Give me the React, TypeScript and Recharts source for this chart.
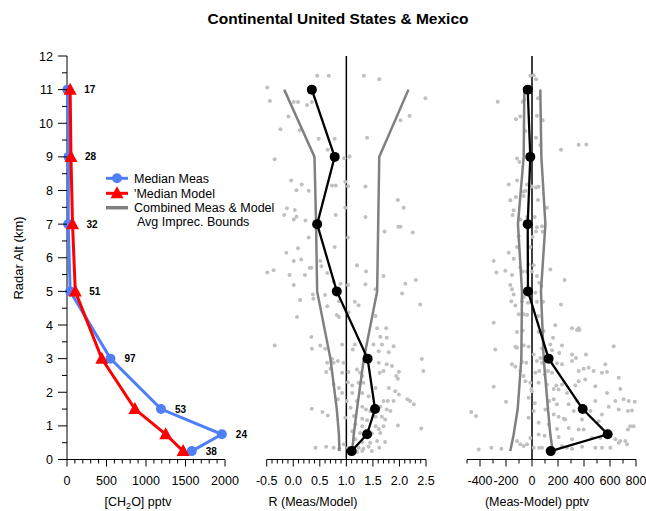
import React from "react";
import { ScatterChart, Scatter, XAxis, YAxis, ReferenceLine } from "recharts";

const FONT = '"Liberation Sans", Arial, Helvetica, sans-serif';
const W = 646;
const H = 511;
const TOP = 56;
const AXIS_H = 51.5; // plot bottom at 459.5

// altitude bins (km) and number of points per bin
const altitudes = [11, 9, 7, 5, 3, 1.5, 0.75, 0.25];
const counts = [17, 28, 32, 51, 97, 53, 24, 38];

// panel 1: [CH2O] pptv
const medianMeas = [5, 20, 15, 40, 550, 1190, 1960, 1580];
const medianModel = [40, 50, 70, 105, 440, 860, 1250, 1470];

// panel 2: R (Meas/Model)
const ratioMedian = [0.35, 0.78, 0.45, 0.82, 1.4, 1.54, 1.39, 1.1];
const ratioLow = [-0.17, 0.4, 0.43, 0.45, 0.7, 0.82, 0.86, 0.87];
const ratioHigh = [2.17, 1.62, 1.6, 1.58, 1.33, 1.2, 1.14, 1.11];

// panel 3: (Meas-Model) pptv
const diffMedian = [-33, -13, -33, -31, 128, 390, 582, 144];
const diffLow = [-59, -64, -108, -77, -82, -110, -141, -167];
const diffHigh = [64, 72, 103, 69, 90, 123, 141, 159];

// individual points [value, altitude]
const ratioPoints: [number, number][] = [
  [-0.49, 11.06], [0.45, 11.41], [0.67, 11.41], [1.33, 11.41], [1.62, 11.31], [-0.44, 10.66], [0.01, 10.63],
  [0.09, 10.63], [0.26, 10.54], [0.35, 10.63], [2.49, 10.74], [-0.09, 10.2], [2.02, 10.09], [2.19, 10.22],
  [-0.24, 9.82], [0.12, 9.79], [0.48, 9.54], [0.78, 9.54], [1.39, 9.57], [-0.35, 8.93], [0.65, 9.21],
  [0.96, 8.96], [1.06, 9.01], [-0.04, 8.3], [0.16, 8.18], [0.06, 8.01], [0.29, 7.99], [0.73, 8.15],
  [0.8, 8.15], [0.98, 8.26], [1.03, 8.13], [1.36, 8.12],
  [1.97, 7.72], [-0.12, 7.47], [0.03, 7.42], [-0.17, 7.27], [0.06, 7.22], [0.01, 7.14], [0.23, 7.11],
  [0.8, 7.27], [0.98, 7.49], [1.36, 7.21], [2.08, 7.49], [1.98, 6.92], [2.02, 6.92], [2.25, 6.75],
  [1.72, 6.78], [1.03, 6.6], [0.29, 6.6], [0.78, 6.32], [0.09, 6.28], [-0.13, 6.15], [0.01, 5.9],
  [0.15, 5.95], [0.31, 5.7], [0.34, 5.7], [0.51, 5.9], [0.53, 5.75], [-0.49, 5.56], [-0.37, 5.63],
  [-0.07, 5.49], [0.22, 5.49], [0.64, 5.55], [1.2, 5.78], [1.37, 5.59], [1.7, 5.46], [0.76, 5.29],
  [0.89, 5.23], [1.03, 5.19], [1.36, 5.21], [1.55, 5.06], [2.11, 5.23], [2.31, 5.34], [0.01, 5.19],
  [2.05, 4.94], [0.37, 4.91], [0.38, 4.78], [0.6, 4.89], [0.13, 4.74], [0.86, 4.71], [1.16, 4.69],
  [1.23, 4.59], [2.39, 4.61], [0.64, 4.56], [0.07, 4.24], [0.82, 4.3], [0.86, 4.24], [1.04, 4.38],
  [1.55, 4.27], [1.58, 3.9], [1.75, 3.9],
  [0.34, 3.64], [-0.35, 3.39], [0.35, 3.29], [0.51, 3.39], [0.6, 3.29], [0.92, 3.42], [1.12, 3.27],
  [1.16, 3.42], [1.64, 3.65], [1.76, 3.62], [1.51, 3.42], [1.67, 3.42], [1.89, 3.37], [1.61, 3.22],
  [1.8, 3.19], [2.42, 2.99], [2.45, 2.63], [0.64, 2.88], [0.76, 2.88], [0.95, 2.88], [0.73, 2.99],
  [0.84, 2.93], [0.7, 2.7], [0.62, 2.6], [0.92, 2.58], [1.04, 2.6], [1.2, 2.68], [1.61, 2.88],
  [1.76, 2.83], [1.86, 2.78], [1.63, 2.58], [1.7, 2.63], [1.99, 2.61], [1.94, 2.48], [1.97, 2.4],
  [0.76, 2.23], [0.86, 2.13], [1.03, 2.3], [1.11, 2.2], [1.23, 2.28], [1.32, 2.28], [1.3, 2.48],
  [1.26, 2.58], [1.55, 2.13], [1.8, 2.13], [1.92, 2.03], [1.99, 1.93], [0.92, 1.98], [1.11, 1.98],
  [1.3, 1.98], [1.42, 1.88], [0.84, 1.79], [1.01, 1.74], [1.2, 1.74], [1.7, 1.74], [1.78, 1.74],
  [1.89, 1.74], [2.15, 1.79], [2.2, 1.74], [2.27, 1.64], [0.35, 1.51], [0.55, 1.41], [0.65, 1.31],
  [1.08, 1.54], [1.3, 1.57], [1.37, 1.49], [1.45, 1.44], [1.51, 1.59], [1.64, 1.57], [1.76, 1.49],
  [1.83, 1.44], [0.98, 1.24], [1.14, 1.29], [1.3, 1.21], [1.39, 1.17], [1.55, 1.27], [1.67, 1.27],
  [1.73, 1.19], [1.17, 1.04], [1.3, 0.99], [1.55, 0.99], [1.61, 0.91], [1.7, 0.99], [1.97, 1.01],
  [2.41, 0.92], [1.11, 0.84], [1.26, 0.79], [1.48, 0.77], [1.64, 0.79], [1.17, 0.6], [1.3, 0.52],
  [1.45, 0.5], [1.58, 0.55], [1.73, 0.52], [0.42, 0.35], [0.62, 0.38], [0.76, 0.35], [0.86, 0.32],
  [0.95, 0.45], [1.03, 0.35], [1.23, 0.35], [1.32, 0.32], [1.42, 0.38], [1.62, 0.35], [1.08, 0.2],
  [1.2, 0.22], [1.3, 0.25], [1.48, 0.25],
];

const diffPoints: [number, number][] = [
  [-13, 11.41], [13, 11.43], [31, 11.31], [-264, 10.64], [-72, 10.64], [-59, 10.71], [46, 10.74],
  [-123, 10.12], [-90, 10.2], [38, 10.22], [82, 10.09], [-51, 9.77], [31, 9.57], [64, 9.35], [223, 9.21],
  [359, 9.36], [418, 9.37], [-115, 8.95], [-97, 8.85], [-115, 8.3], [-179, 8.18], [-38, 8.18], [0, 8.12],
  [31, 8.09], [51, 8.11], [-51, 7.99], [-64, 7.96],
  [-167, 7.71], [-123, 7.81], [-64, 7.84], [46, 7.72], [-141, 7.41], [-149, 7.27], [115, 7.49],
  [-90, 7.14], [-38, 7.21], [21, 7.21], [38, 6.91], [77, 6.94], [82, 6.77], [31, 6.78], [5, 6.62],
  [-103, 6.64], [-115, 6.32], [-13, 6.32], [-179, 6.15], [-141, 5.97], [-295, 5.9], [-274, 5.56],
  [-205, 5.61], [-154, 5.49], [-90, 5.72], [-26, 5.8], [13, 5.78], [-72, 5.59], [-38, 5.59], [0, 5.59],
  [38, 5.46], [141, 5.65], [251, 5.34], [-167, 5.19], [-154, 5.06], [-141, 4.91], [56, 5.26], [72, 5.16],
  [26, 4.96], [-64, 4.83], [-77, 4.71], [-31, 4.66], [38, 4.69], [85, 4.69], [-159, 4.71], [-128, 4.58],
  [223, 4.61], [-103, 4.32], [-64, 4.32], [-38, 4.3], [51, 4.27], [-295, 4.07], [179, 3.99], [308, 3.9],
  [359, 3.9],
  [-115, 3.79], [-72, 3.84], [51, 3.79], [90, 3.82], [162, 3.62], [346, 3.85], [364, 3.85], [-282, 3.27],
  [-128, 3.35], [-115, 3.32], [-64, 3.39], [-26, 3.35], [77, 3.3], [141, 3.42], [154, 3.25], [231, 3.39],
  [13, 3.12], [64, 3.02], [210, 3.17], [308, 3.12], [338, 3.02], [415, 3.12], [628, 3.37], [-154, 2.83],
  [-128, 2.76], [-77, 2.9], [-44, 2.88], [38, 2.93], [77, 2.88], [192, 2.86], [231, 2.83], [308, 2.93],
  [359, 2.63], [397, 2.7], [436, 2.73], [474, 2.63], [538, 2.58], [564, 2.83], [577, 2.6], [-90, 2.63],
  [-64, 2.48], [26, 2.58], [56, 2.63], [97, 2.53], [123, 2.63], [154, 2.58], [-51, 2.33], [-13, 2.28],
  [51, 2.28], [115, 2.23], [187, 2.2], [231, 2.23], [-295, 2.16], [-5, 2.1], [0, 2.03], [167, 2.1],
  [205, 2.08], [269, 1.98], [333, 2.2], [359, 2.33], [410, 2.38], [487, 2.18], [667, 2.43], [577, 1.98],
  [679, 2.1], [-200, 1.72], [-26, 1.84], [21, 1.67], [133, 1.74], [167, 1.79], [192, 1.64], [282, 1.64],
  [346, 1.74], [487, 1.74], [641, 1.74], [705, 1.79], [744, 1.74], [790, 1.72], [-467, 1.41], [-431, 1.29],
  [13, 1.44], [103, 1.49], [167, 1.34], [205, 1.27], [244, 1.21], [321, 1.44], [449, 1.44], [538, 1.34],
  [590, 1.57], [667, 1.49], [738, 1.44], [769, 1.46], [-26, 1.24], [51, 1.09], [128, 1.04], [256, 1.19],
  [385, 1.19], [513, 1.14], [192, 0.91], [282, 0.94], [359, 0.89], [397, 0.89], [738, 0.89], [756, 0.99],
  [782, 0.99], [51, 0.74], [97, 0.71], [205, 0.67], [308, 0.6], [462, 0.64], [526, 0.64], [641, 0.6],
  [679, 0.55], [718, 0.55], [-13, 0.64], [-115, 0.55], [-90, 0.45], [-64, 0.4], [-38, 0.45], [-410, 0.3],
  [-313, 0.35], [-236, 0.32], [13, 0.35], [56, 0.35], [77, 0.35], [231, 0.4], [269, 0.35], [308, 0.32],
  [385, 0.38], [487, 0.35], [538, 0.35], [603, 0.35], [667, 0.5], [731, 0.45],
];

const ch2oTicks = Array.from({ length: 21 }, (_, i) => i * 100);
const ratioTicks = Array.from({ length: 31 }, (_, i) => Math.round((-0.5 + i * 0.1) * 10) / 10);
const diffTicks = Array.from({ length: 14 }, (_, i) => -500 + i * 100);
const altTicks = Array.from({ length: 25 }, (_, i) => i * 0.5);

const toPts = (xs: number[]) => xs.map((x, i) => ({ x, y: altitudes[i] }));
const toCloud = (pts: [number, number][]) => pts.map(([x, y]) => ({ x, y }));

const isMultiple = (v: number, m: number) => Math.abs(v / m - Math.round(v / m)) < 1e-6;

const makeXTick = (labelEvery: number, fmt: (v: number) => string) => (props: any) => {
  const { x, y, payload } = props;
  const major = isMultiple(payload.value, labelEvery);
  return (
    <g>
      <line x1={x} x2={x} y1={y} y2={y + (major ? 7 : 4)} stroke="#000" strokeWidth={1} />
      {major && (
        <text x={x} y={y + 25.5} textAnchor="middle" fontSize={12.5} fontFamily={FONT} fill="#000">
          {fmt(payload.value)}
        </text>
      )}
    </g>
  );
};

const altTick = (props: any) => {
  const { x, y, payload } = props;
  const major = isMultiple(payload.value, 1);
  return (
    <g>
      <line x1={x - (major ? 9 : 5)} x2={x} y1={y} y2={y} stroke="#000" strokeWidth={1} />
      {major && (
        <text x={x - 14} y={y + 4.5} textAnchor="end" fontSize={12.5} fontFamily={FONT} fill="#000">
          {payload.value}
        </text>
      )}
    </g>
  );
};

const noShape = () => <g />;
const grayDot = (p: any) => <circle cx={p.cx} cy={p.cy} r={2} fill="#c0c0c0" />;
const blackDot = (p: any) => <circle cx={p.cx} cy={p.cy} r={5} fill="#000" />;
const blueDot = (p: any) => <circle cx={p.cx} cy={p.cy} r={5} fill="#4f7ff6" />;
const redTri = (p: any) => (
  <polygon points={`${p.cx},${p.cy - 7} ${p.cx - 6.5},${p.cy + 5} ${p.cx + 6.5},${p.cy + 5}`} fill="#ff0000" />
);
const countLabel = (p: any) => (
  <text x={p.cx + 14} y={p.cy + 3.6} fontSize={10} fontWeight="bold" fontFamily={FONT} fill="#000">
    {p.payload.n}
  </text>
);

const frame = { position: "absolute" as const, left: 0, top: 0 };

function Ch2oPanel() {
  const labels = altitudes.map((a, i) => ({ x: Math.max(medianMeas[i], medianModel[i]), y: a, n: counts[i] }));
  return (
    <div style={frame}>
      <ScatterChart width={W} height={H} margin={{ top: TOP, right: 421, bottom: 0, left: 0 }}>
        <XAxis type="number" dataKey="x" domain={[0, 2000]} ticks={ch2oTicks} interval={0} height={AXIS_H}
          tickLine={false} tickSize={0} tickMargin={0} stroke="#000" tick={makeXTick(500, (v) => String(v))} />
        <YAxis type="number" dataKey="y" domain={[0, 12]} ticks={altTicks} interval={0} width={67}
          tickLine={false} tickSize={0} tickMargin={0} stroke="#000" tick={altTick} />
        <Scatter data={toPts(medianMeas)} line={{ stroke: "#4f7ff6", strokeWidth: 3 }} lineType="joint"
          shape={blueDot} isAnimationActive={false} />
        <Scatter data={toPts(medianModel)} line={{ stroke: "#ff0000", strokeWidth: 3 }} lineType="joint"
          shape={redTri} isAnimationActive={false} />
        <Scatter data={labels} shape={countLabel} isAnimationActive={false} />
      </ScatterChart>
    </div>
  );
}

function RatioPanel() {
  return (
    <div style={frame}>
      <ScatterChart width={W} height={H} margin={{ top: TOP, right: 220, bottom: 0, left: 266.7 }}>
        <XAxis type="number" dataKey="x" domain={[-0.5, 2.5]} ticks={ratioTicks} interval={0} height={AXIS_H}
          tickLine={false} tickSize={0} tickMargin={0} stroke="#000" tick={makeXTick(0.5, (v) => v.toFixed(1))} />
        <YAxis type="number" dataKey="y" domain={[0, 12]} hide />
        <Scatter data={toCloud(ratioPoints)} shape={grayDot} isAnimationActive={false} />
        <Scatter data={toPts(ratioLow)} line={{ stroke: "#808080", strokeWidth: 2.5 }} lineType="joint"
          shape={noShape} isAnimationActive={false} />
        <Scatter data={toPts(ratioHigh)} line={{ stroke: "#808080", strokeWidth: 2.5 }} lineType="joint"
          shape={noShape} isAnimationActive={false} />
        <ReferenceLine x={1} stroke="#000" strokeWidth={1.5} />
        <Scatter data={toPts(ratioMedian)} line={{ stroke: "#000", strokeWidth: 2.3 }} lineType="joint"
          shape={blackDot} isAnimationActive={false} />
      </ScatterChart>
    </div>
  );
}

function DiffPanel() {
  return (
    <div style={frame}>
      <ScatterChart width={W} height={H} margin={{ top: TOP, right: 10, bottom: 0, left: 467 }}>
        <XAxis type="number" dataKey="x" domain={[-500, 800]} ticks={diffTicks} interval={0} height={AXIS_H}
          tickLine={false} tickSize={0} tickMargin={0} stroke="#000" tick={makeXTick(200, (v) => String(v))} />
        <YAxis type="number" dataKey="y" domain={[0, 12]} hide />
        <Scatter data={toCloud(diffPoints)} shape={grayDot} isAnimationActive={false} />
        <Scatter data={toPts(diffLow)} line={{ stroke: "#808080", strokeWidth: 2.5 }} lineType="joint"
          shape={noShape} isAnimationActive={false} />
        <Scatter data={toPts(diffHigh)} line={{ stroke: "#808080", strokeWidth: 2.5 }} lineType="joint"
          shape={noShape} isAnimationActive={false} />
        <ReferenceLine x={0} stroke="#000" strokeWidth={1.5} />
        <Scatter data={toPts(diffMedian)} line={{ stroke: "#000", strokeWidth: 2.3 }} lineType="joint"
          shape={blackDot} isAnimationActive={false} />
      </ScatterChart>
    </div>
  );
}

function Overlay() {
  const t = { fontFamily: FONT, fontSize: 12.5, fill: "#000" };
  return (
    <svg width={W} height={H} style={{ ...frame, pointerEvents: "none" }}>
      <text x={338} y={23.5} textAnchor="middle" fontFamily={FONT} fontSize={15.5} fontWeight="bold">
        Continental United States &amp; Mexico
      </text>
      <text transform="translate(23,258) rotate(-90)" textAnchor="middle" {...t} fontSize={13}>Radar Alt (km)</text>
      <text x={138} y={506} textAnchor="middle" {...t}>
        [CH<tspan fontSize={9} dy={3}>2</tspan><tspan dy={-3}>O] pptv</tspan>
      </text>
      <text x={313} y={506} textAnchor="middle" {...t}>R (Meas/Model)</text>
      <text x={537} y={506} textAnchor="middle" {...t}>(Meas-Model) pptv</text>

      <line x1={106} x2={128} y1={178.3} y2={178.3} stroke="#4f7ff6" strokeWidth={3} />
      <circle cx={117} cy={178.3} r={5} fill="#4f7ff6" />
      <text x={134} y={182.8} {...t}>Median Meas</text>
      <line x1={106} x2={128} y1={193.3} y2={193.3} stroke="#ff0000" strokeWidth={3} />
      <polygon points="117,186.3 110.5,198.3 123.5,198.3" fill="#ff0000" />
      <text x={134} y={197.8} {...t}>'Median Model</text>
      <line x1={106} x2={128} y1={207.7} y2={207.7} stroke="#808080" strokeWidth={3.5} />
      <text x={134} y={212.2} {...t}>Combined Meas &amp; Model</text>
      <text x={137} y={226.2} {...t}>Avg Imprec. Bounds</text>
    </svg>
  );
}

export default function App() {
  return (
    <div style={{ position: "fixed", left: 0, top: 0, width: W, height: H, background: "#fff", fontFamily: FONT }}>
      <DiffPanel />
      <RatioPanel />
      <Ch2oPanel />
      <Overlay />
    </div>
  );
}
